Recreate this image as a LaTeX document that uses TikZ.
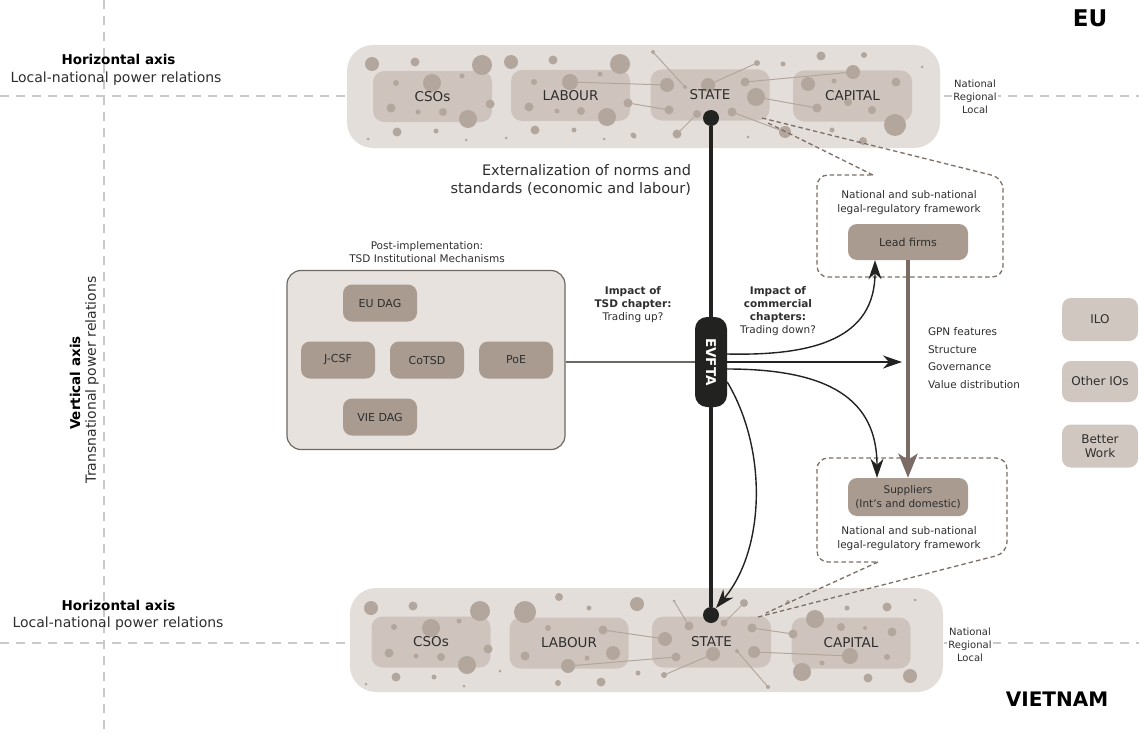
\documentclass[tikz,border=0pt]{standalone}
\usepackage{fontspec}
\setmainfont{DejaVu Sans}
\usepackage{graphicx}
\usetikzlibrary{arrows.meta,calc}
\pgfdeclarelayer{bg}
\pgfdeclarelayer{mid}
\pgfsetlayers{bg,mid,main}
\definecolor{bandc}{HTML}{E4DEDA}
\definecolor{innerc}{HTML}{CEC4BD}
\definecolor{dotc}{HTML}{B3A69C}
\definecolor{boxc}{HTML}{A99B90}
\definecolor{ioc}{HTML}{D0C7C1}
\definecolor{tsdc}{HTML}{E7E2DE}
\definecolor{tsdline}{HTML}{6E6862}
\definecolor{dashc}{HTML}{7D6E66}
\definecolor{axisc}{HTML}{C9C9C9}
\definecolor{brownarr}{HTML}{7A6C64}
\definecolor{darkc}{HTML}{222220}
\definecolor{txt}{HTML}{2E2E2E}
\begin{document}
\begin{tikzpicture}[x=1pt,y=-1pt,
  lbl/.style={inner sep=0pt, outer sep=0pt, text=txt},
  band/.style={inner sep=0pt, outer sep=0pt, minimum width=593pt, minimum height=103pt},
  inbox/.style={inner sep=0pt, outer sep=0pt, minimum width=119pt, minimum height=51pt, text=txt, font=\fontsize{13.5}{16}\selectfont},
  mech/.style={fill=boxc, rounded corners=9pt, minimum width=74pt, minimum height=37pt, inner sep=0pt, text=txt, font=\fontsize{11}{13}\selectfont},
  ionode/.style={fill=ioc, rounded corners=9pt, minimum width=76pt, inner sep=0pt, align=center, text=txt, font=\fontsize{12}{14.5}\selectfont},
  small/.style={inner sep=0pt, align=center, text=txt, font=\fontsize{10}{13}\selectfont},
  sdot/.style={circle, fill=darkc, minimum size=16pt, inner sep=0pt, outer sep=0pt},
  arr/.style={darkc, line width=1.4pt, -{Stealth[length=19pt,width=13pt,inset=6pt]}},
  frame/.style={dashc, line width=1.3pt, dash pattern=on 4.5pt off 3pt, rounded corners=11pt},
  axisline/.style={axisc, line width=1.2pt, dash pattern=on 9pt off 7pt},
  link/.style={dotc, line width=1pt},
]
\useasboundingbox (0,0) rectangle (1139,733);

% ---------- axes ----------
\begin{pgfonlayer}{bg}
\coordinate (vaxT) at (104,0);
\coordinate (vaxB) at (104,733);
\coordinate (haxL1) at (0,96);
\coordinate (haxR1) at (1139,96);
\coordinate (haxL2) at (0,643);
\coordinate (haxR2) at (1139,643);
\draw[axisline] (vaxT) -- (vaxB);
\draw[axisline] (haxL1) -- (haxR1);
\draw[axisline] (haxL2) -- (haxR2);
\end{pgfonlayer}

% ---------- bands ----------
\node[band] (euband) at (643.5,96.5) {};
\node[band, minimum height=104pt] (vnband) at (646.5,640) {};
\node[inbox] (eucso) at (432.5,96.5) {CSOs};
\node[inbox] (eulab) at (570.5,95.5) {LABOUR};
\node[inbox] (eusta) at (710,95) {STATE};
\node[inbox] (eucap) at (852.5,96) {CAPITAL};
\node[inbox] (vncso) at (431,642) {CSOs};
\node[inbox] (vnlab) at (569,643) {LABOUR};
\node[inbox] (vnsta) at (711.5,642) {STATE};
\node[inbox] (vncap) at (851,643) {CAPITAL};

\begin{pgfonlayer}{bg}
\foreach \n in {euband,vnband}
  \fill[bandc, rounded corners=26pt] (\n.south west) rectangle (\n.north east);
\foreach \n in {eucso,eulab,eusta,eucap,vncso,vnlab,vnsta,vncap}
  \fill[innerc, rounded corners=11pt] (\n.south west) rectangle (\n.north east);
\end{pgfonlayer}

\begin{pgfonlayer}{mid}
% links top
\foreach \a/\b/\c/\d in {653/52/685/87, 570/82/667/85, 628/103/669/110, 708/85/757/63,
  745/82/853/72, 756/97/817/108, 697/114/677/134, 732/112/785/132}
  \draw[link] (\a,\b) -- (\c,\d);
% links bottom
\foreach \a/\b/\c/\d in {603/630/665/639, 568/666/676/657, 664/675/713/654, 674/601/689/626,
  724/623/744/603, 752/628/793/634, 754/652/850/656, 737/651/768/687}
  \draw[link] (\a,\b) -- (\c,\d);
% dots top
\foreach \x/\y/\r in {372/64/7, 415/62/4.5, 482/65/10, 511/62/7, 553/60/4.5, 620/64/10,
  396/83/3, 432/83/9, 462/76/2.5, 391/108/4.5, 418/112/2.5, 443/112/4, 468/119/9, 490/104/4.5,
  397/132/4.5, 436/131/2.5, 466/140/1.5, 368/139/1.5,
  534/82/3, 570/82/8, 667/85/7, 600/74/2.5, 529/107/4.5, 557/111/2.5, 581/111/4, 607/117/9, 628/103/4.5, 669/110/4.5,
  535/130/4.5, 574/130/2.5, 506/138/1.5, 604/139/1.5, 634/136/2.5,
  653/52/2, 685/87/2, 708/85/7, 757/63/3, 745/82/4.5, 756/97/9, 697/114/4, 677/134/4.5, 732/112/4.5,
  785/132/6, 633/135/2.5, 783/64/2.5,
  821/56/4.5, 864/55/3, 853/72/7, 808/84/7, 834/81/2.5, 896/82/4.5, 817/108/4.5, 848/102/4,
  872/110/4, 895/125/11, 832/130/2.5, 863/141/4, 748/137/1.5, 922/67/1.5}
  \fill[dotc] (\x,\y) circle (\r pt);
% dots bottom
\foreach \x/\y/\r in {371/608/7, 413/606/4.5, 480/611/10, 525/612/11, 559/597/4, 589/608/2.5, 637/604/7,
  394/627/3, 431/628/9, 459/621/2.5, 389/653/4.5, 416/656/2.5, 441/657/4, 467/665/9, 488/649/4.5,
  396/677/4.5, 434/677/2.5, 464/686/1.5, 366/684/1.5, 500/671/1.5,
  548/628/3, 603/630/4.5, 665/639/7, 525/656/4.5, 587/658/2.5, 613/653/7, 568/666/7, 676/657/4.5,
  558/683/3, 601/682/4.5, 638/673/2.5, 664/675/3, 713/654/7,
  674/601/1.5, 689/626/4.5, 724/623/3.5, 744/603/4, 752/628/4.5, 793/634/4.5, 754/652/6, 737/651/2, 768/687/2,
  788/602/2, 847/608/2.5, 887/607/4.5, 915/600/1.5, 815/619/9, 841/627/4, 865/628/2, 892/632/4.5,
  850/656/8, 822/663/2.5, 887/657/3, 802/672/9, 868/678/4.5, 910/676/7}
  \fill[dotc] (\x,\y) circle (\r pt);
\end{pgfonlayer}

% ---------- axis labels ----------
\node[lbl, font=\bfseries\fontsize{13.5}{16}\selectfont, text=black] (hax1) at (118.5,59) {Horizontal axis};
\node[lbl, font=\fontsize{14}{16}\selectfont] (hax1b) at (116,79) {Local-national power relations};
\node[lbl, font=\bfseries\fontsize{13.5}{16}\selectfont, text=black] (hax2) at (118.5,605) {Horizontal axis};
\node[lbl, font=\fontsize{14}{16}\selectfont] (hax2b) at (118,624) {Local-national power relations};
\node[lbl, rotate=90, font=\bfseries\fontsize{13.5}{16}\selectfont, text=black] (vax1) at (75,383) {Vertical axis};
\node[lbl, rotate=90, font=\fontsize{14}{16}\selectfont] (vax2) at (92,380) {Transnational power relations};

\node[lbl, font=\bfseries\fontsize{23}{26}\selectfont, text=black] (eu) at (1090,18) {EU};
\node[lbl, font=\bfseries\fontsize{20}{24}\selectfont, text=black] (vn) at (1057,699) {VIETNAM};

\node[small, fill=white, inner sep=1pt, font=\fontsize{10}{13}\selectfont] (lev1) at (975,97) {National\\Regional\\Local};
\node[small, fill=white, inner sep=1pt, font=\fontsize{10}{13}\selectfont] (lev2) at (970,645) {National\\Regional\\Local};

% ---------- state dots and EVFTA ----------
\node[sdot] (dtop) at (711,118) {};
\node[sdot] (dbot) at (711,615) {};
\node[fill=darkc, rounded corners=12pt, minimum width=32pt, minimum height=90pt, inner sep=0pt, text=white,
  font=\bfseries\fontsize{13.5}{16}\selectfont] (evfta) at (711,362) {\rotatebox{-90}{EVFTA}};
\draw[darkc, line width=4pt] (dtop) -- (evfta);
\draw[darkc, line width=4pt] (evfta) -- (dbot);

\node[lbl, align=right, anchor=east, font=\fontsize{14.5}{17.5}\selectfont] (ext) at (691,180)
  {Externalization of norms and\\standards (economic and labour)};

% ---------- TSD mechanisms ----------
\node[small, font=\fontsize{10.5}{13.5}\selectfont] (tsdtitle) at (427,252) {Post-implementation:\\TSD Institutional Mechanisms};
\node[fill=tsdc, draw=tsdline, line width=1.2pt, rounded corners=14pt, minimum width=278pt, minimum height=179pt, inner sep=0pt] (tsd) at (426,360) {};
\node[mech] (eudag) at (380,303) {EU DAG};
\node[mech] (jcsf) at (338,360) {J-CSF};
\node[mech] (cotsd) at (427,360) {CoTSD};
\node[mech] (poe) at (516,360) {PoE};
\node[mech] (viedag) at (380,417) {VIE DAG};
\draw[tsdline, line width=1.3pt] (evfta.west -| tsd.east) -- (evfta.west);

\node[small, font=\fontsize{10.5}{13}\selectfont] (imp1) at (633,305) {\textbf{Impact of}\\\textbf{TSD chapter:}\\Trading up?};
\node[small, font=\fontsize{10.5}{13}\selectfont] (imp2) at (778,311.5) {\textbf{Impact of}\\\textbf{commercial}\\\textbf{chapters:}\\Trading down?};

% ---------- GPN ----------
\node[fill=boxc, rounded corners=9pt, minimum width=120pt, minimum height=36pt, inner sep=0pt, text=txt, font=\fontsize{11}{13}\selectfont] (lead) at (908,242) {Lead firms};
\node[fill=boxc, rounded corners=9pt, minimum width=120pt, minimum height=38pt, inner sep=0pt, align=center, text=txt, font=\fontsize{10.5}{14}\selectfont] (sup) at (908,497) {Suppliers\\(Int's and domestic)};
\node[small, font=\fontsize{10.5}{14}\selectfont] (fw1) at (909,203) {National and sub-national\\legal-regulatory framework};
\node[small, font=\fontsize{10.5}{14}\selectfont] (fw2) at (909,538.5) {National and sub-national\\legal-regulatory framework};

\node[lbl, align=left, anchor=north west, font=\fontsize{10.5}{17.5}\selectfont] (gpn) at (928,328)
  {GPN features\\Structure\\Governance\\Value distribution};

\draw[brownarr, line width=4pt, -{Stealth[length=24pt,width=19pt,inset=6pt]}] (lead) -- (sup);

% frames
\coordinate (fA) at (762,118);
\coordinate (fB) at (768,123);
\coordinate (fN1) at (873,175);
\coordinate (fC) at (766,613);
\coordinate (fD) at (758,617);
\coordinate (fN2) at (878,562);
\draw[frame] (fA) -- (1003,178) -- (1003,277) -- (817,277) -- (817,175) -- (fN1);
\draw[frame, sharp corners] (fN1) -- (fB);
\draw[frame] (fD) -- (1007,553) -- (1007,458) -- (817,458) -- (817,562) -- (fN2);
\draw[frame, sharp corners] (fN2) -- (fC);

% ---------- IOs ----------
\node[ionode, minimum height=43pt] (ilo) at (1100,319.5) {ILO};
\node[ionode, minimum height=41pt] (oio) at (1100,381.5) {Other IOs};
\node[ionode, minimum height=43pt] (bw) at (1100,446) {Better\\Work};

% ---------- arrows from EVFTA ----------
\coordinate (gpnend) at (902,362);
\draw[arr] (evfta.east) -- (gpnend);
\draw[arr] ($(evfta.east)+(0,-8)$) .. controls (815,356) and ($(lead.south)+(-33,78)$) .. ($(lead.south)+(-33,0)$);
\draw[arr] ($(evfta.east)+(0,7)$) .. controls (830,369) and ($(sup.north)+(-31,-78)$) .. ($(sup.north)+(-31,0)$);
\draw[arr] ($(evfta.east)+(0,20)$) .. controls (768,450) and (765,550) .. ($(dbot)+(5,-7)$);

\end{tikzpicture}
\end{document}
